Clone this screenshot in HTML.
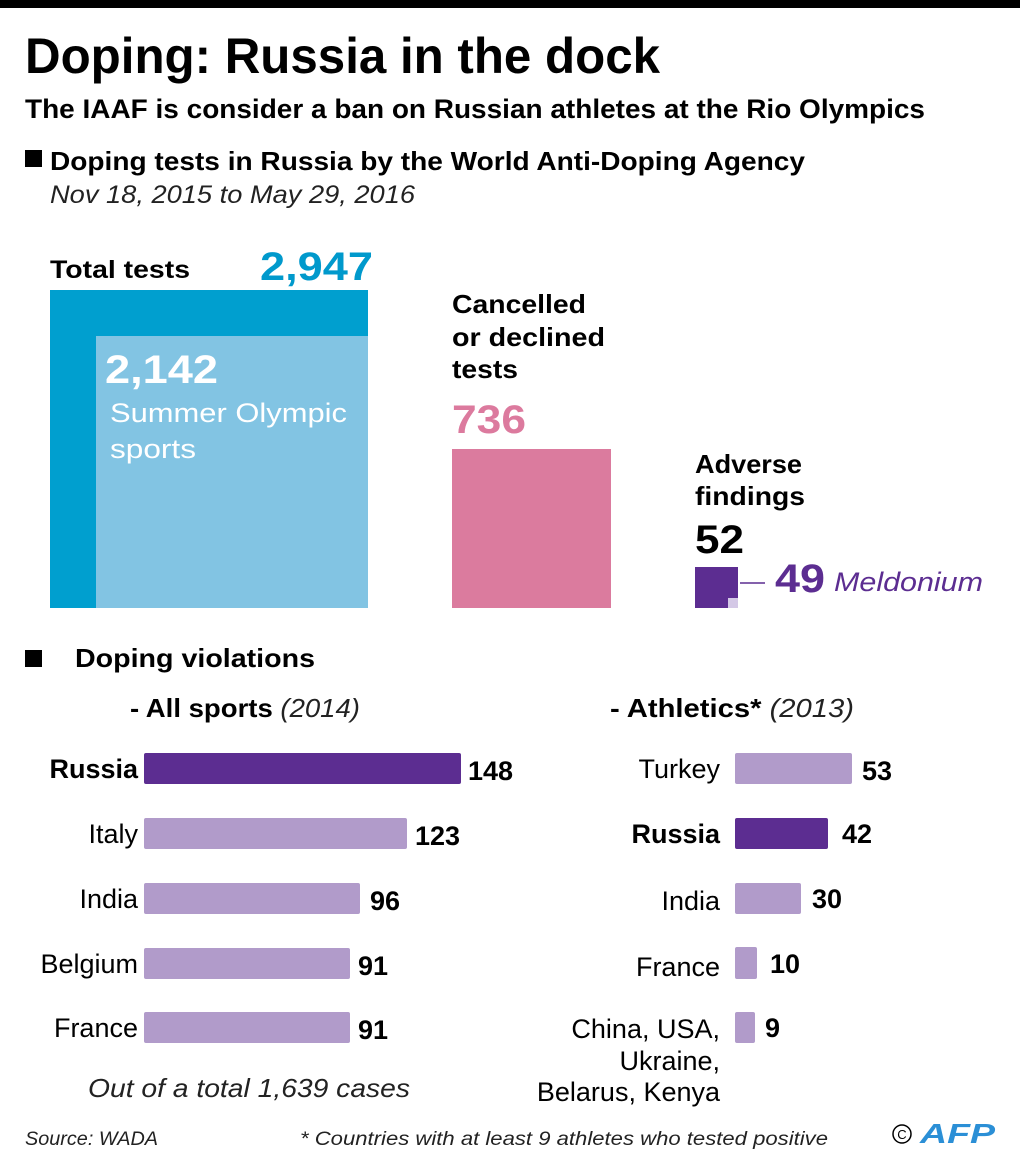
<!DOCTYPE html>
<html><head><meta charset="utf-8"><style>
html,body{margin:0;padding:0;background:#fff}
svg{display:block}
text{font-family:"Liberation Sans",sans-serif}
.b{font-weight:bold}
.i{font-style:italic}
</style></head><body>
<svg width="1020" height="1172" viewBox="0 0 1020 1172" xmlns="http://www.w3.org/2000/svg">
<rect x="0" y="0" width="1020" height="8" fill="#000"/>
<text x="25" y="73" class="b" font-size="50" textLength="635" lengthAdjust="spacingAndGlyphs">Doping: Russia in the dock</text>
<text x="25" y="118" class="b" font-size="27" textLength="900" lengthAdjust="spacingAndGlyphs">The IAAF is consider a ban on Russian athletes at the Rio Olympics</text>
<rect x="25" y="150" width="17" height="17" fill="#000"/>
<text x="50" y="170" class="b" font-size="26" textLength="755" lengthAdjust="spacingAndGlyphs">Doping tests in Russia by the World Anti-Doping Agency</text>
<text x="50" y="203" class="i" font-size="25" fill="#222" textLength="365" lengthAdjust="spacingAndGlyphs">Nov 18, 2015 to May 29, 2016</text>

<text x="50" y="278" class="b" font-size="25" textLength="140" lengthAdjust="spacingAndGlyphs">Total tests</text>
<text x="260" y="280" class="b" font-size="40" fill="#0099cc" textLength="113" lengthAdjust="spacingAndGlyphs">2,947</text>
<rect x="50" y="290" width="318" height="318" fill="#009fcf"/>
<rect x="96" y="336" width="272" height="272" fill="#82c4e3"/>
<text x="105" y="383" class="b" font-size="40" fill="#fff" textLength="113" lengthAdjust="spacingAndGlyphs">2,142</text>
<text x="110" y="422" font-size="27" fill="#fff" textLength="237" lengthAdjust="spacingAndGlyphs">Summer Olympic</text>
<text x="110" y="458" font-size="27" fill="#fff" textLength="86" lengthAdjust="spacingAndGlyphs">sports</text>

<text x="452" y="313" class="b" font-size="26" textLength="134" lengthAdjust="spacingAndGlyphs">Cancelled</text>
<text x="452" y="346" class="b" font-size="26" textLength="153" lengthAdjust="spacingAndGlyphs">or declined</text>
<text x="452" y="378" class="b" font-size="26" textLength="66" lengthAdjust="spacingAndGlyphs">tests</text>
<text x="452" y="433" class="b" font-size="40" fill="#dc7a9e" textLength="74" lengthAdjust="spacingAndGlyphs">736</text>
<rect x="452" y="449" width="159" height="159" fill="#db7b9e"/>

<text x="695" y="473" class="b" font-size="26" textLength="107" lengthAdjust="spacingAndGlyphs">Adverse</text>
<text x="695" y="505" class="b" font-size="26" textLength="110" lengthAdjust="spacingAndGlyphs">findings</text>
<text x="695" y="553" class="b" font-size="40" textLength="49" lengthAdjust="spacingAndGlyphs">52</text>
<rect x="695" y="567" width="43" height="41" fill="#5c2d91"/>
<rect x="728" y="598" width="10" height="10" fill="#d4c8e6"/>
<line x1="740" y1="583" x2="765" y2="583" stroke="#5c2d91" stroke-width="1.5"/>
<text x="775" y="592" class="b" font-size="40" fill="#5c2d91" textLength="50" lengthAdjust="spacingAndGlyphs">49</text>
<text x="834" y="591" class="i" font-size="27" fill="#5c2d91" textLength="149" lengthAdjust="spacingAndGlyphs">Meldonium</text>

<rect x="25" y="650" width="17" height="17" fill="#000"/>
<text x="75" y="667" class="b" font-size="26" textLength="240" lengthAdjust="spacingAndGlyphs">Doping violations</text>
<text x="130" y="717" font-size="26" textLength="230" lengthAdjust="spacingAndGlyphs"><tspan class="b">- All sports</tspan><tspan class="i" fill="#222"> (2014)</tspan></text>
<text x="610" y="717" font-size="26" textLength="244" lengthAdjust="spacingAndGlyphs"><tspan class="b">- Athletics*</tspan><tspan class="i" fill="#222"> (2013)</tspan></text>

<g font-size="27">
<rect x="144" y="753" width="317" height="31" rx="2" fill="#5c2d91"/>
<text x="138" y="778" text-anchor="end" class="b">Russia</text>
<text x="468" y="780" class="b">148</text>
<rect x="144" y="818" width="263" height="31" rx="2" fill="#b19bca"/>
<text x="138" y="843" text-anchor="end">Italy</text>
<text x="415" y="845" class="b">123</text>
<rect x="144" y="883" width="216" height="31" rx="2" fill="#b19bca"/>
<text x="138" y="908" text-anchor="end">India</text>
<text x="370" y="910" class="b">96</text>
<rect x="144" y="948" width="206" height="31" rx="2" fill="#b19bca"/>
<text x="138" y="973" text-anchor="end">Belgium</text>
<text x="358" y="975" class="b">91</text>
<rect x="144" y="1012" width="206" height="31" rx="2" fill="#b19bca"/>
<text x="138" y="1037" text-anchor="end">France</text>
<text x="358" y="1039" class="b">91</text>
<text x="88" y="1097" class="i" font-size="26" fill="#222" textLength="322" lengthAdjust="spacingAndGlyphs">Out of a total 1,639 cases</text>

<rect x="735" y="753" width="117" height="31" rx="2" fill="#b19bca"/>
<text x="720" y="778" text-anchor="end">Turkey</text>
<text x="862" y="780" class="b">53</text>
<rect x="735" y="818" width="93" height="31" rx="2" fill="#5c2d91"/>
<text x="720" y="843" text-anchor="end" class="b">Russia</text>
<text x="842" y="843" class="b">42</text>
<rect x="735" y="883" width="66" height="31" rx="2" fill="#b19bca"/>
<text x="720" y="910" text-anchor="end">India</text>
<text x="812" y="908" class="b">30</text>
<rect x="735" y="947" width="22" height="32" rx="2" fill="#b19bca"/>
<text x="720" y="976" text-anchor="end">France</text>
<text x="770" y="973" class="b">10</text>
<rect x="735" y="1012" width="20" height="31" rx="2" fill="#b19bca"/>
<text x="765" y="1037" class="b">9</text>
<text x="720" y="1038" text-anchor="end">China, USA,</text>
<text x="720" y="1070" text-anchor="end">Ukraine,</text>
<text x="720" y="1101" text-anchor="end">Belarus, Kenya</text>
</g>

<text x="25" y="1145" class="i" font-size="19" fill="#222" textLength="133" lengthAdjust="spacingAndGlyphs">Source: WADA</text>
<text x="300" y="1145" class="i" font-size="19" fill="#222" textLength="528" lengthAdjust="spacingAndGlyphs">* Countries with at least 9 athletes who tested positive</text>
<circle cx="902" cy="1134" r="9" fill="none" stroke="#000" stroke-width="1.5"/>
<text x="902" y="1139" text-anchor="middle" font-size="13">C</text>
<text x="920" y="1143" class="b i" font-size="28" fill="#2b8fd6" textLength="75" lengthAdjust="spacingAndGlyphs">AFP</text>
</svg>
</body></html>
